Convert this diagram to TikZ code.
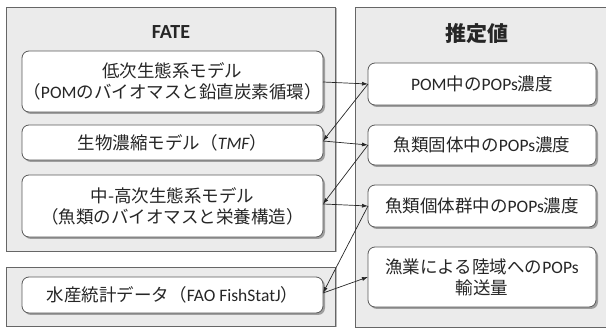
\documentclass[tikz,border=0pt]{standalone}
\usepackage{fontspec}
\setmainfont{Noto Sans CJK JP}
\newfontfamily\lat{Carlito}
\usetikzlibrary{shadows,arrows.meta}
\tikzset{
  panel/.style={draw=black!60, line width=0.9pt, fill=black!8, drop shadow={shadow xshift=1.5pt, shadow yshift=-1.5pt, fill=black!45, opacity=0.6}},
  mbox/.style={draw=black!65, line width=0.8pt, fill=white, rounded corners=7pt, drop shadow={shadow xshift=2pt, shadow yshift=-2pt, fill=black!50, opacity=0.7}},
  conn/.style={-{Latex[length=6pt,width=4pt]}, line width=0.7pt, black!85},
  txt/.style={font=\fontsize{17.5}{21}\selectfont, align=center, text=black!85},
}
\begin{document}
\begin{tikzpicture}[x=1pt,y=-1pt]
\useasboundingbox (0,0) rectangle (606,331);
\begin{scope}
\clip (0,0) rectangle (606,331);
% panels
\path[panel] (6,7) rectangle (335,251);
\path[panel] (6,267) rectangle (335,326);
\path[panel] (355,7) rectangle (612,327);
\end{scope}
\node[font=\lat\bfseries\fontsize{20}{24}\selectfont, text=black!85] (fate) at (171,32) {FATE};
\node[font=\bfseries\fontsize{21}{25}\selectfont, text=black!85] (est) at (477,34) {推定値};
% left boxes
\path[mbox] (22,51) rectangle (323,112);
\node[txt] (b1) at (172.5,81.5) {低次生態系モデル\\（{\lat POM}のバイオマスと鉛直炭素循環）};
\path[mbox] (22,125) rectangle (323,160);
\node[txt] (b2) at (172.5,142.5) {生物濃縮モデル（{\lat\itshape TMF}）};
\path[mbox] (22,175) rectangle (323,237);
\node[txt] (b3) at (172.5,206) {中-高次生態系モデル\\（魚類のバイオマスと栄養構造）};
\path[mbox] (22,277) rectangle (323,313);
\node[txt] (b4) at (172.5,295) {水産統計データ（{\lat FAO FishStatJ}）};
% right boxes
\path[mbox] (368,63) rectangle (596,105);
\node[txt] (r1) at (482,84) {{\lat POM}中の{\lat POPs}濃度};
\path[mbox] (368,125) rectangle (596,165);
\node[txt] (r2) at (482,145) {魚類固体中の{\lat POPs}濃度};
\path[mbox] (368,185) rectangle (596,227);
\node[txt] (r3) at (482,206) {魚類個体群中の{\lat POPs}濃度};
\path[mbox] (368,247) rectangle (596,307);
\node[txt] (r4) at (482,277) {漁業による陸域への{\lat POPs}\\輸送量};
% anchor coordinates
\coordinate (b1r) at (323,82);
\coordinate (b2r) at (323,141);
\coordinate (b3r) at (323,204);
\coordinate (b4r) at (323,293);
\coordinate (r1l) at (368,84);
\coordinate (r2l) at (368,145);
\coordinate (r3l) at (368,206);
\coordinate (r4l) at (368,277);
\draw[conn] (b1r) -- (r1l);
\draw[conn] (r1l) -- (b2r);
\draw[conn] (b2r) -- (r2l);
\draw[conn] (r2l) -- (b3r);
\draw[conn] (b3r) -- (r3l);
\draw[conn] (r3l) -- (b4r);
\draw[conn] (b4r) -- (r4l);
\end{tikzpicture}
\end{document}
